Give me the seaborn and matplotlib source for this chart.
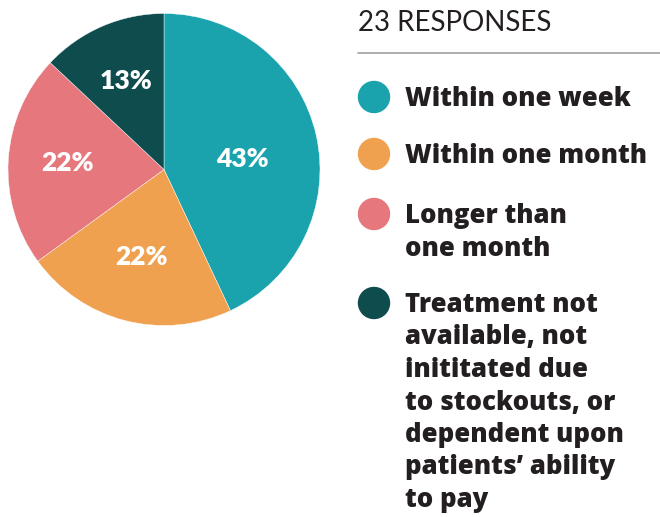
import seaborn as sns
import matplotlib.pyplot as plt
from matplotlib.patches import Ellipse
import numpy as np

categories = ["Within one week", "Within one month", "Longer than\none month",
              "Treatment not\navailable, not\ninititated due\nto stockouts, or\ndependent upon\npatients\u2019 ability\nto pay"]
shares = [43, 22, 22, 13]
colors = ["#1AA3AD", "#F0A150", "#E5777D", "#0F4C4E"]
title = "23 RESPONSES"

sns.set_style("white")
plt.rcParams['font.family'] = ['Lato', 'DejaVu Sans']

W, H = 660, 517
fig = plt.figure(figsize=(W / 100, H / 100), dpi=100)

def fx(px):
    return px / W

def fy(py):
    return 1 - py / H

# pie on the left
ax = fig.add_axes([fx(8), fy(326), fx(312), 313 / H])
wedges, texts, autotexts = ax.pie(shares, colors=colors, startangle=90, counterclock=False,
                                  autopct=lambda p: f"{p:.0f}%", pctdistance=0.6,
                                  wedgeprops=dict(linewidth=0.3, edgecolor="white"),
                                  textprops=dict(color="white", fontsize=19, fontweight="heavy"))
label_r = [0.51, 0.58, 0.62, 0.62]
label_shift = [-5, 0, 0, 0]
for w, t, r, s in zip(wedges, autotexts, label_r, label_shift):
    ang = np.deg2rad((w.theta1 + w.theta2) / 2 + s)
    t.set_position((r * np.cos(ang), r * np.sin(ang)))
ax.set_xlim(-1, 1)
ax.set_ylim(-1, 1)
ax.set_aspect("equal")

# legend drawn by hand on the right
fig.text(fx(358), fy(31), title, fontsize=20, fontweight="normal", color="#231F20",
         va="baseline", ha="left")
fig.add_artist(plt.Line2D([fx(358), fx(660)], [fy(53), fy(53)], color="#A0A0A0", lw=1.2))

first_baselines = [106, 163, 223, 312]
line_gap = 32.5
for lab, col, b in zip(categories, colors, first_baselines):
    cy = b - 9
    fig.add_artist(Ellipse((fx(374), fy(cy)), 31 / W, 31 / H, color=col,
                           transform=fig.transFigure))
    for i, line in enumerate(lab.split("\n")):
        fig.text(fx(405), fy(b + i * line_gap), line, fontfamily="Open Sans", fontsize=18.5,
                 fontweight=800, color="#231F20", va="baseline", ha="left")

fig.savefig("out.png", dpi=100)
